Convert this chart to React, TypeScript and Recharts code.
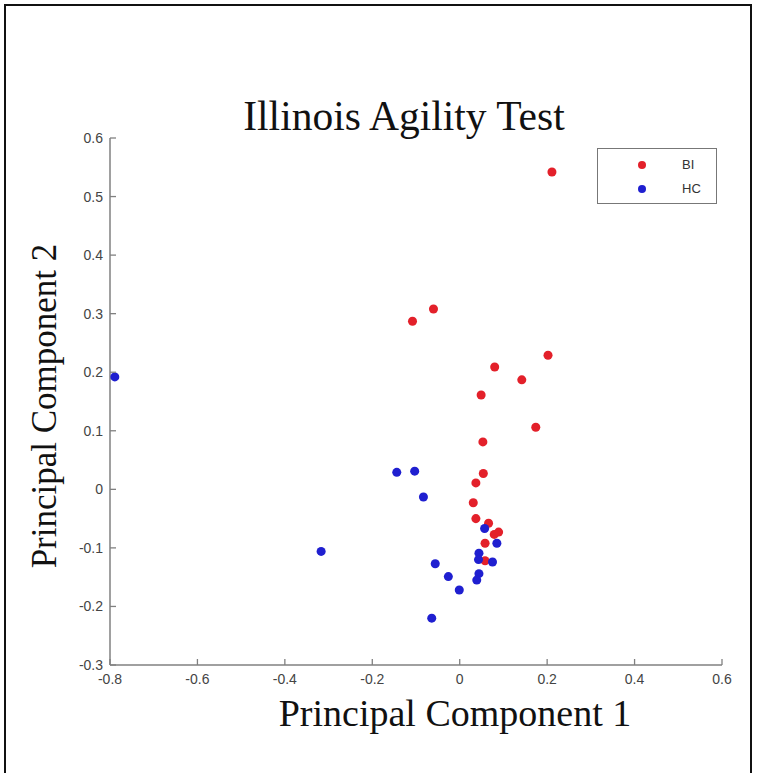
import { ScatterChart, Scatter, XAxis, YAxis, ZAxis, Legend } from "recharts";

// principal component scores
const biX = [0.211, -0.06, -0.108, 0.202, 0.08, 0.142, 0.049, 0.174, 0.053, 0.054, 0.037, 0.031, 0.037, 0.066, 0.089, 0.079, 0.058, 0.058];
const biY = [0.542, 0.308, 0.287, 0.229, 0.209, 0.187, 0.161, 0.106, 0.081, 0.027, 0.011, -0.023, -0.05, -0.058, -0.073, -0.077, -0.092, -0.122];

const hcX = [-0.789, -0.317, -0.144, -0.103, -0.083, 0.057, 0.085, 0.044, 0.043, 0.075, -0.056, -0.026, 0.044, 0.039, -0.001, -0.064];
const hcY = [0.192, -0.106, 0.029, 0.031, -0.013, -0.067, -0.092, -0.109, -0.12, -0.124, -0.127, -0.149, -0.144, -0.155, -0.172, -0.22];

const xTicks = [-0.8, -0.6, -0.4, -0.2, 0, 0.2, 0.4, 0.6];
const yTicks = [-0.3, -0.2, -0.1, 0, 0.1, 0.2, 0.3, 0.4, 0.5, 0.6];

const groups = [
  { name: "BI", color: "#e3202a", xs: biX, ys: biY },
  { name: "HC", color: "#1f1fd0", xs: hcX, ys: hcY },
];

const AXIS = "#808080";
const TICK_FONT = "'Liberation Sans', Arial, sans-serif";
const SERIF = "'Liberation Serif', 'Times New Roman', serif";

function XTick(props: any) {
  const { x, y, payload } = props;
  return (
    <g>
      <line x1={x} x2={x} y1={y - 9} y2={y - 15} stroke={AXIS} strokeWidth={1.3} />
      <text x={x} y={y} dy="0.71em" textAnchor="middle" fontSize={14} fontFamily={TICK_FONT} fill="#444">
        {payload.value}
      </text>
    </g>
  );
}

function YTick(props: any) {
  const { x, y, payload } = props;
  return (
    <g>
      <line x1={x + 7} x2={x + 13} y1={y} y2={y} stroke={AXIS} strokeWidth={1.3} />
      <text x={x} y={y} dy="0.355em" textAnchor="end" fontSize={14} fontFamily={TICK_FONT} fill="#444">
        {payload.value}
      </text>
    </g>
  );
}

function LegendBox() {
  return (
    <div
      style={{
        width: 120,
        height: 56,
        border: "1.5px solid #777",
        background: "#fff",
        boxSizing: "border-box",
        fontFamily: TICK_FONT,
        fontSize: 13,
        color: "#333",
        position: "relative",
      }}
    >
      {groups.map((g, i) => (
        <div key={g.name} style={{ position: "absolute", top: 8 + i * 24, left: 0, height: 16, width: "100%" }}>
          <span
            style={{
              position: "absolute",
              left: 40,
              top: 4,
              width: 8,
              height: 8,
              borderRadius: 4,
              background: g.color,
            }}
          />
          <span style={{ position: "absolute", left: 84, top: 0, lineHeight: "16px" }}>{g.name}</span>
        </div>
      ))}
    </div>
  );
}

export default function App() {
  const W = 757;
  const H = 773;
  return (
    <div style={{ position: "absolute", left: 0, top: 0, width: W, height: H, overflow: "hidden", background: "#fff" }}>
      <div
        style={{
          position: "absolute",
          left: 4,
          top: 4,
          width: 748,
          height: 800,
          border: "2px solid #111",
          boxSizing: "border-box",
        }}
      />
      <ScatterChart width={W} height={H} margin={{ top: 138, right: 35, bottom: 68, left: 60 }}>
        <XAxis
          type="number"
          dataKey="x"
          domain={[-0.8, 0.6]}
          ticks={xTicks}
          interval={0}
          allowDataOverflow
          height={40}
          tickSize={0}
          tickMargin={9}
          tick={<XTick />}
          stroke={AXIS}
          strokeWidth={1.5}
        />
        <YAxis
          type="number"
          dataKey="y"
          domain={[-0.3, 0.6]}
          ticks={yTicks}
          interval={0}
          allowDataOverflow
          width={50}
          tickSize={0}
          tickMargin={7}
          tick={<YTick />}
          stroke={AXIS}
          strokeWidth={1.5}
        />
        <ZAxis range={[72, 72]} />
        <Legend
          layout="vertical"
          verticalAlign="middle"
          align="center"
          content={() => <LegendBox />}
          wrapperStyle={{ position: "absolute", left: 597, top: 148, width: 120, height: 56 }}
        />
        {groups.map((g) => (
          <Scatter
            key={g.name}
            name={g.name}
            data={g.xs.map((x, i) => ({ x, y: g.ys[i] }))}
            fill={g.color}
            shape="circle"
            isAnimationActive={false}
          />
        ))}
      </ScatterChart>
      <div
        style={{
          position: "absolute",
          left: 404,
          top: 94,
          transform: "translateX(-50%)",
          fontFamily: SERIF,
          fontSize: 41.5,
          lineHeight: "44px",
          whiteSpace: "nowrap",
          color: "#111",
        }}
      >
        Illinois Agility Test
      </div>
      <div
        style={{
          position: "absolute",
          left: 455,
          top: 692,
          transform: "translateX(-50%)",
          fontFamily: SERIF,
          fontSize: 38,
          lineHeight: "42px",
          whiteSpace: "nowrap",
          color: "#111",
        }}
      >
        Principal Component 1
      </div>
      <div
        style={{
          position: "absolute",
          left: 45,
          top: 406,
          transform: "translate(-50%, -50%) rotate(-90deg)",
          fontFamily: SERIF,
          fontSize: 35,
          lineHeight: "40px",
          whiteSpace: "nowrap",
          color: "#111",
        }}
      >
        Principal Component 2
      </div>
    </div>
  );
}
